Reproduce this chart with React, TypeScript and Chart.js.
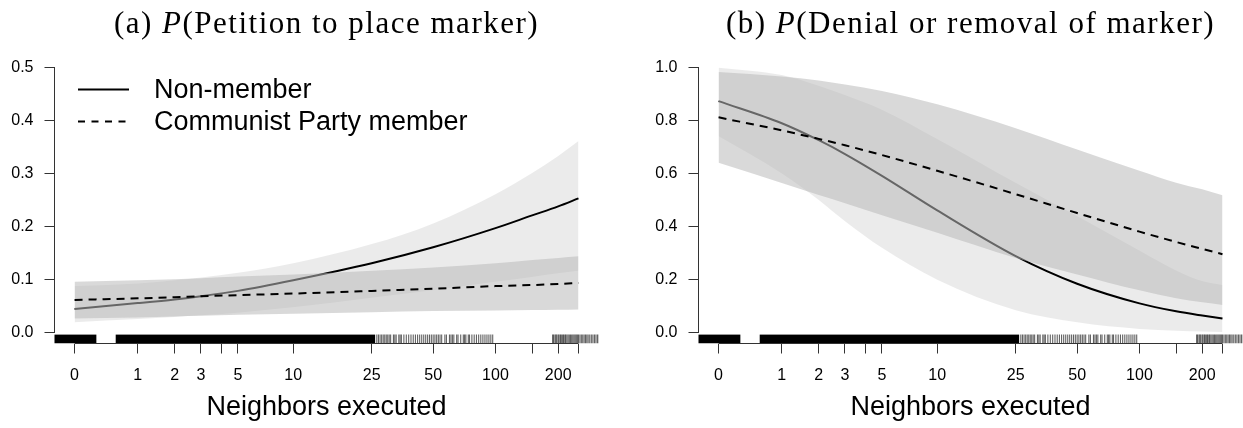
import React, { useEffect, useRef } from "react";
import { Chart, registerables } from "chart.js";

Chart.register(...registerables);

// ---------- data ----------
// neighbors executed at which the curves were read
const neighbors = [0, 1, 2, 3, 5, 10, 25, 50, 100, 150, 200, 250];

// x axis ticks (neighbors executed) and their labels
const xTickValues = [0, 1, 2, 3, 4, 5, 10, 25, 50, 100, 150, 200, 250];
const xTickLabels = ["0", "1", "2", "3", "", "5", "10", "25", "50", "100", "", "200", ""];

// (a) P(Petition to place marker)
const petitionNonMember = [0.045, 0.056, 0.063, 0.069, 0.079, 0.099, 0.131, 0.161, 0.197, 0.221, 0.238, 0.253];
const petitionNonMemberLo = [0.020, 0.026, 0.030, 0.033, 0.038, 0.048, 0.066, 0.080, 0.096, 0.105, 0.112, 0.117];
const petitionNonMemberHi = [0.088, 0.093, 0.099, 0.104, 0.113, 0.131, 0.167, 0.206, 0.261, 0.301, 0.333, 0.361];
const petitionMember = [0.062, 0.065, 0.067, 0.069, 0.071, 0.074, 0.079, 0.083, 0.088, 0.090, 0.092, 0.094];
const petitionMemberLo = [0.027, 0.029, 0.031, 0.032, 0.034, 0.036, 0.039, 0.041, 0.042, 0.043, 0.0435, 0.044];
const petitionMemberHi = [0.096, 0.099, 0.101, 0.103, 0.106, 0.110, 0.117, 0.123, 0.131, 0.137, 0.141, 0.144];

// (b) P(Denial or removal of marker)
const denialNonMember = [0.872, 0.789, 0.725, 0.673, 0.591, 0.461, 0.289, 0.185, 0.111, 0.081, 0.065, 0.054];
const denialNonMemberLo = [0.74, 0.60, 0.50, 0.42, 0.32, 0.20, 0.085, 0.04, 0.015, 0.008, 0.005, 0.003];
const denialNonMemberHi = [0.998, 0.97, 0.93, 0.895, 0.84, 0.73, 0.565, 0.44, 0.31, 0.235, 0.195, 0.18];
const denialMember = [0.811, 0.762, 0.730, 0.706, 0.669, 0.610, 0.522, 0.451, 0.381, 0.342, 0.316, 0.296];
const denialMemberLo = [0.64, 0.564, 0.519, 0.488, 0.443, 0.377, 0.282, 0.22, 0.16, 0.13, 0.115, 0.105];
const denialMemberHi = [0.982, 0.965, 0.95, 0.935, 0.91, 0.86, 0.77, 0.69, 0.61, 0.565, 0.54, 0.518];

// y ticks
const yTicksA = [0, 0.1, 0.2, 0.3, 0.4, 0.5];
const yTicksB = [0, 0.2, 0.4, 0.6, 0.8, 1.0];

// rug of observed neighbors executed (jittered ranges drawn solid, sparse values as lines)
const rugBlocks = [[-0.5, 0.27], [0.57, 26]];
const rugTicks = [
  26.5, 27, 27.5, 28, 28.5, 29, 29.5, 30, 30.5, 31, 32, 32.5, 33, 34, 34.5, 35, 36, 37, 38, 39, 40, 41, 42, 43, 44, 45, 46, 47, 48,
  49, 50, 51, 52, 53, 54, 55, 57, 58, 60, 61, 62, 63, 65, 66, 68, 70, 71, 72, 74, 75, 77, 79, 81, 83, 85, 87, 89, 91, 93, 95, 97,
  188, 190, 193, 195, 197, 200, 202, 205, 207, 210, 212, 215, 217, 220, 223, 226, 229, 232, 235, 238, 241,
  244, 247, 250, 254, 258, 262, 266, 270, 274, 278, 283, 288, 293, 298, 303, 308, 313, 320,
];

const legendLabels = ["Non-member", "Communist Party member"];

// ---------- styling ----------
const BAND1 = "rgba(0,0,0,0.078)";
const BAND2 = "rgba(186,186,186,0.55)";
const AXIS = "#333333";
const SANS = '"Liberation Sans", Arial, sans-serif';
const SERIF = '"Liberation Serif", "Times New Roman", serif';

const toPts = (vals: number[]) => vals.map((v, i) => ({ x: Math.log1p(neighbors[i]), y: v }));

type PanelSpec = {
  titlePrefix: string;
  titleRest: string;
  nonMember: number[];
  nonMemberLo: number[];
  nonMemberHi: number[];
  member: number[];
  memberLo: number[];
  memberHi: number[];
  yTicks: number[];
  yMin: number;
  yMax: number;
  legend: boolean;
  width: number;
  left: number;
  yAxisWidth: number;
  padRight: number;
};

function makeDecor(spec: PanelSpec) {
  return {
    id: "decor",
    afterDatasetsDraw(chart: any) {
      const { ctx, chartArea, scales } = chart;
      const xs = scales.x;
      ctx.save();
      ctx.beginPath();
      ctx.rect(chartArea.left, chartArea.top, chartArea.right - chartArea.left, chartArea.bottom - chartArea.top);
      ctx.clip();
      const rugH = (chartArea.bottom - chartArea.top) * 0.031;
      const top = chartArea.bottom - rugH;
      ctx.fillStyle = "#000";
      for (const [a, b] of rugBlocks) {
        const x0 = xs.getPixelForValue(Math.log1p(a));
        const x1 = xs.getPixelForValue(Math.log1p(b));
        ctx.fillRect(x0, top, x1 - x0, rugH);
      }
      ctx.strokeStyle = "rgba(0,0,0,0.62)";
      ctx.lineWidth = 1.1;
      for (const n of rugTicks) {
        const px = xs.getPixelForValue(Math.log1p(n));
        ctx.beginPath();
        ctx.moveTo(px, top);
        ctx.lineTo(px, chartArea.bottom);
        ctx.stroke();
      }
      ctx.restore();
    },
    afterDraw(chart: any) {
      const { ctx, chartArea, scales } = chart;
      const xs = scales.x;
      const ys = scales.y;
      ctx.save();
      // axis lines (R style: from first to last tick)
      ctx.strokeStyle = AXIS;
      ctx.lineWidth = 1;
      ctx.beginPath();
      const ax = Math.round(chartArea.left) + 0.5 - 1;
      ctx.moveTo(ax, ys.getPixelForValue(spec.yTicks[0]));
      ctx.lineTo(ax, ys.getPixelForValue(spec.yTicks[spec.yTicks.length - 1]));
      const ay = Math.round(chartArea.bottom) - 0.5;
      ctx.moveTo(xs.getPixelForValue(Math.log1p(xTickValues[0])), ay);
      ctx.lineTo(xs.getPixelForValue(Math.log1p(xTickValues[xTickValues.length - 1])), ay);
      ctx.stroke();

      // title with italic P
      const cx = (chartArea.left + chartArea.right) / 2;
      const parts = [
        { t: spec.titlePrefix, f: `31px ${SERIF}` },
        { t: "P", f: `italic 31px ${SERIF}` },
        { t: spec.titleRest, f: `31px ${SERIF}` },
      ];
      (ctx as any).letterSpacing = "1.5px";
      let total = 0;
      const widths = parts.map((p) => {
        ctx.font = p.f;
        const w = ctx.measureText(p.t).width;
        total += w;
        return w;
      });
      let tx = cx - total / 2;
      ctx.fillStyle = "#000";
      ctx.textBaseline = "alphabetic";
      ctx.textAlign = "left";
      parts.forEach((p, i) => {
        ctx.font = p.f;
        ctx.fillText(p.t, tx, 33);
        tx += widths[i];
      });
      (ctx as any).letterSpacing = "0px";

      // legend
      if (spec.legend) {
        const rows = [89.5, 121.5];
        ctx.lineWidth = 2;
        ctx.strokeStyle = "#000";
        rows.forEach((ry, i) => {
          ctx.setLineDash(i === 0 ? [] : [7, 6.5]);
          ctx.beginPath();
          ctx.moveTo(78, ry);
          ctx.lineTo(129, ry);
          ctx.stroke();
        });
        ctx.setLineDash([]);
        ctx.font = `27px ${SANS}`;
        ctx.textBaseline = "middle";
        rows.forEach((ry, i) => {
          ctx.fillText(legendLabels[i], 154, ry + 1);
        });
      }
      ctx.restore();
    },
  };
}

function Panel({ spec }: { spec: PanelSpec }) {
  const ref = useRef<HTMLCanvasElement | null>(null);
  useEffect(() => {
    if (!ref.current) return;
    const datasets: any[] = [
      {
        label: "Communist Party member",
        data: toPts(spec.member),
        borderColor: "#000",
        borderWidth: 2,
        borderDash: [8, 6],
        fill: false,
      },
      {
        label: "member hi",
        data: toPts(spec.memberHi),
        borderWidth: 0,
        borderColor: "rgba(0,0,0,0)",
        backgroundColor: BAND2,
        fill: 2,
      },
      {
        label: "member lo",
        data: toPts(spec.memberLo),
        borderWidth: 0,
        borderColor: "rgba(0,0,0,0)",
        fill: false,
      },
      {
        label: "Non-member",
        data: toPts(spec.nonMember),
        borderColor: "#000",
        borderWidth: 2,
        fill: false,
      },
      {
        label: "non-member hi",
        data: toPts(spec.nonMemberHi),
        borderWidth: 0,
        borderColor: "rgba(0,0,0,0)",
        backgroundColor: BAND1,
        fill: 5,
      },
      {
        label: "non-member lo",
        data: toPts(spec.nonMemberLo),
        borderWidth: 0,
        borderColor: "rgba(0,0,0,0)",
        fill: false,
      },
    ];
    const chart = new Chart(ref.current, {
      type: "line",
      data: { datasets },
      options: {
        responsive: false,
        maintainAspectRatio: false,
        animation: false,
        events: [],
        elements: {
          point: { radius: 0 },
          line: { cubicInterpolationMode: "monotone", borderCapStyle: "butt" },
        },
        layout: { padding: { top: 56.5, right: spec.padRight, left: 0, bottom: 0 } },
        plugins: { legend: { display: false }, tooltip: { enabled: false }, title: { display: false } },
        scales: {
          x: {
            type: "linear",
            min: -0.22,
            max: 5.745,
            afterBuildTicks: (scale: any) => {
              scale.ticks = xTickValues.map((v) => ({ value: Math.log1p(v) }));
            },
            afterFit: (scale: any) => {
              scale.height = 84.5;
            },
            ticks: {
              autoSkip: false,
              maxRotation: 0,
              minRotation: 0,
              padding: 12,
              color: "#000",
              font: { family: SANS, size: 16 },
              callback: (_v: any, i: number) => xTickLabels[i],
            },
            grid: { display: true, drawOnChartArea: false, drawTicks: true, tickLength: 10, color: AXIS, lineWidth: 1 },
            border: { display: false },
            title: {
              display: true,
              text: "Neighbors executed",
              color: "#000",
              font: { family: SANS, size: 27 },
              padding: { top: 0, bottom: 4 },
            },
          },
          y: {
            type: "linear",
            min: spec.yMin,
            max: spec.yMax,
            afterBuildTicks: (scale: any) => {
              scale.ticks = spec.yTicks.map((v) => ({ value: v }));
            },
            afterFit: (scale: any) => {
              scale.width = spec.yAxisWidth;
            },
            ticks: {
              autoSkip: false,
              padding: 11,
              color: "#000",
              font: { family: SANS, size: 16 },
              callback: (v: any) => Number(v).toFixed(1),
            },
            grid: { display: true, drawOnChartArea: false, drawTicks: true, tickLength: 10, color: AXIS, lineWidth: 1 },
            border: { display: false },
          },
        },
      },
      plugins: [makeDecor(spec)],
    });
    return () => chart.destroy();
  }, [spec]);
  return (
    <canvas
      ref={ref}
      width={spec.width}
      height={428}
      style={{ position: "absolute", left: spec.left, top: 0, width: spec.width, height: 428 }}
    />
  );
}

const panelA: PanelSpec = {
  titlePrefix: "(a) ",
  titleRest: "(Petition to place marker)",
  nonMember: petitionNonMember,
  nonMemberLo: petitionNonMemberLo,
  nonMemberHi: petitionNonMemberHi,
  member: petitionMember,
  memberLo: petitionMemberLo,
  memberHi: petitionMemberHi,
  yTicks: yTicksA,
  yMin: -0.02,
  yMax: 0.52,
  legend: true,
  width: 621,
  left: 0,
  yAxisWidth: 54.5,
  padRight: 22.5,
};

const panelB: PanelSpec = {
  titlePrefix: "(b) ",
  titleRest: "(Denial or removal of marker)",
  nonMember: denialNonMember,
  nonMemberLo: denialNonMemberLo,
  nonMemberHi: denialNonMemberHi,
  member: denialMember,
  memberLo: denialMemberLo,
  memberHi: denialMemberHi,
  yTicks: yTicksB,
  yMin: -0.04,
  yMax: 1.04,
  legend: false,
  width: 622,
  left: 621,
  yAxisWidth: 77.5,
  padRight: 0.5,
};

export default function App() {
  return (
    <div style={{ position: "absolute", left: 0, top: 0, width: 1243, height: 428, background: "#fff", overflow: "hidden" }}>
      <Panel spec={panelA} />
      <Panel spec={panelB} />
    </div>
  );
}
